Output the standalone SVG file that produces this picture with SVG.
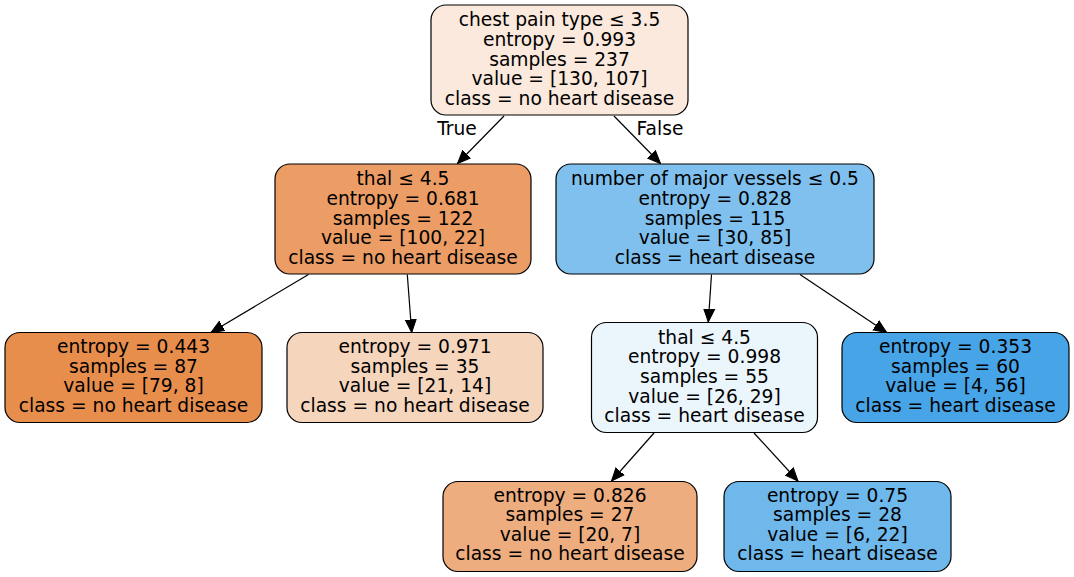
<svg xmlns="http://www.w3.org/2000/svg" width="1074" height="577" viewBox="0 0 1074 577">
<style>
  .box { stroke: #000; stroke-width: 1.2; }
  text { font-family: "DejaVu Sans", "Liberation Sans", sans-serif; font-size: 18.67px; fill: #000; text-anchor: middle; }
  .edge { stroke: #000; stroke-width: 1.2; fill: none; marker-end: url(#arrow); }
</style>
<defs>
  <marker id="arrow" markerUnits="userSpaceOnUse" markerWidth="16" markerHeight="14" refX="13" refY="6" orient="auto" viewBox="0 0 16 12">
    <path d="M0,0.5 L13,6 L0,11.5 z" fill="#000" stroke="#000" stroke-width="1"/>
  </marker>
</defs>
<rect width="1074" height="577" fill="#fff"/>
<g id="edges">
  <line class="edge" x1="504" y1="116" x2="457.5" y2="163.5"/>
  <line class="edge" x1="614" y1="116" x2="660.5" y2="163.5"/>
  <line class="edge" x1="308.5" y1="274.5" x2="211" y2="332.5"/>
  <line class="edge" x1="407.3" y1="274.5" x2="411.7" y2="332.5"/>
  <line class="edge" x1="711.5" y1="274.5" x2="708.3" y2="322"/>
  <line class="edge" x1="800" y1="274.5" x2="886.7" y2="332.5"/>
  <line class="edge" x1="654" y1="433" x2="611.5" y2="481"/>
  <line class="edge" x1="754" y1="433" x2="798" y2="481"/>
  <text x="457" y="135">True</text>
  <text x="660" y="135">False</text>
</g>
<g id="node0">
  <rect class="box" x="431" y="5" width="257" height="110" rx="15" fill="#fae9dc"/>
  <text x="559.5" y="26.3">chest pain type ≤ 3.5</text>
  <text x="559.5" y="45.9">entropy = 0.993</text>
  <text x="559.5" y="65.5">samples = 237</text>
  <text x="559.5" y="85.1">value = [130, 107]</text>
  <text x="559.5" y="104.7">class = no heart disease</text>
</g>
<g id="node1">
  <rect class="box" x="275" y="164" width="256" height="110" rx="15" fill="#eb9d65"/>
  <text x="403" y="185.3">thal ≤ 4.5</text>
  <text x="403" y="204.9">entropy = 0.681</text>
  <text x="403" y="224.5">samples = 122</text>
  <text x="403" y="244.1">value = [100, 22]</text>
  <text x="403" y="263.7">class = no heart disease</text>
</g>
<g id="node2">
  <rect class="box" x="5" y="332.5" width="257" height="90" rx="15" fill="#e88e4d"/>
  <text x="133.5" y="353.1">entropy = 0.443</text>
  <text x="133.5" y="372.7">samples = 87</text>
  <text x="133.5" y="392.3">value = [79, 8]</text>
  <text x="133.5" y="411.9">class = no heart disease</text>
</g>
<g id="node3">
  <rect class="box" x="287" y="332.5" width="256" height="90" rx="15" fill="#f6d5bd"/>
  <text x="415" y="353.1">entropy = 0.971</text>
  <text x="415" y="372.7">samples = 35</text>
  <text x="415" y="392.3">value = [21, 14]</text>
  <text x="415" y="411.9">class = no heart disease</text>
</g>
<g id="node4">
  <rect class="box" x="556" y="164" width="318" height="110" rx="15" fill="#7fc0ee"/>
  <text x="715" y="185.3">number of major vessels ≤ 0.5</text>
  <text x="715" y="204.9">entropy = 0.828</text>
  <text x="715" y="224.5">samples = 115</text>
  <text x="715" y="244.1">value = [30, 85]</text>
  <text x="715" y="263.7">class = heart disease</text>
</g>
<g id="node5">
  <rect class="box" x="591.5" y="322.5" width="226" height="110" rx="15" fill="#ebf5fc"/>
  <text x="704.5" y="343.8">thal ≤ 4.5</text>
  <text x="704.5" y="363.4">entropy = 0.998</text>
  <text x="704.5" y="383">samples = 55</text>
  <text x="704.5" y="402.6">value = [26, 29]</text>
  <text x="704.5" y="422.2">class = heart disease</text>
</g>
<g id="node6">
  <rect class="box" x="443" y="481.5" width="254" height="90" rx="15" fill="#eead7e"/>
  <text x="570" y="501.6">entropy = 0.826</text>
  <text x="570" y="521.2">samples = 27</text>
  <text x="570" y="540.8">value = [20, 7]</text>
  <text x="570" y="560.4">class = no heart disease</text>
</g>
<g id="node7">
  <rect class="box" x="724" y="481.5" width="227" height="90" rx="15" fill="#6fb8ec"/>
  <text x="837.5" y="501.6">entropy = 0.75</text>
  <text x="837.5" y="521.2">samples = 28</text>
  <text x="837.5" y="540.8">value = [6, 22]</text>
  <text x="837.5" y="560.4">class = heart disease</text>
</g>
<g id="node8">
  <rect class="box" x="842" y="332.5" width="227" height="90" rx="15" fill="#47a4e7"/>
  <text x="955.5" y="353.1">entropy = 0.353</text>
  <text x="955.5" y="372.7">samples = 60</text>
  <text x="955.5" y="392.3">value = [4, 56]</text>
  <text x="955.5" y="411.9">class = heart disease</text>
</g>
</svg>
